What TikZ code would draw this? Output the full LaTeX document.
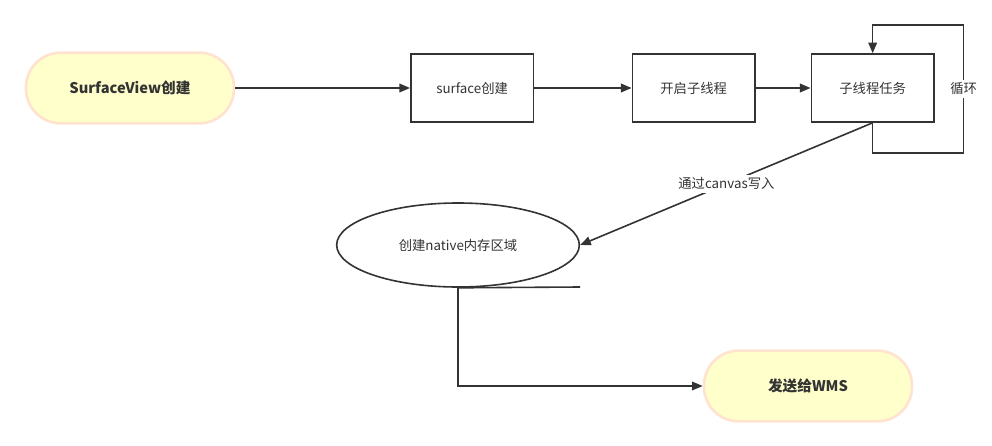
\documentclass[tikz,border=0pt]{standalone}
\usepackage{fontspec}
\setmainfont{Noto Sans CJK SC}
\usetikzlibrary{positioning,arrows.meta,shapes.geometric}

\definecolor{lnc}{HTML}{333333}
\definecolor{pale}{HTML}{FFFFCC}
\definecolor{peach}{HTML}{FFE3CF}

\begin{document}
\begin{tikzpicture}[
  x=0.75pt, y=-0.75pt,
  >={Triangle[length=8pt,width=6.5pt]},
  every path/.style={draw=lnc, line width=1.2pt},
  every node/.style={text=lnc},
  term/.style={rectangle, rounded corners=26pt, draw=peach, line width=2pt, fill=pale, minimum width=156pt, minimum height=53pt, font=\bfseries\fontsize{11}{13}\selectfont},
  task/.style={rectangle, draw=lnc, line width=1.2pt, minimum width=92pt, minimum height=51pt, font=\fontsize{10}{12}\selectfont},
  store/.style={ellipse, draw=lnc, line width=1.2pt, minimum width=182pt, minimum height=63pt, font=\fontsize{10}{12}\selectfont},
  lbl/.style={fill=white, inner sep=2pt, font=\fontsize{10}{12}\selectfont}
]
\useasboundingbox[draw=none] (0,0) rectangle (992,446);

\node[term] (sv) at (130,88) {SurfaceView创建};
\node[task, right=131pt of sv] (sc) {surface创建};
\node[task, right=73pt of sc] (th) {开启子线程};
\node[task, right=41pt of th] (job) {子线程任务};
\node[store] (mem) at (458,245) {创建native内存区域};
\node[term] (wms) at (808,386) {发送给WMS};
\coordinate (stub) at (580,287);

% top row
\draw[->] (sv) -- (sc);
\draw[->] (sc) -- (th);
\draw[->] (th) -- (job);

% loop on the worker
\draw[->] (job.south) -- ++(0,30) -- ++(91,0) -- node[lbl, midway] {循环} ++(0,-128) -- ++(-91,0) -- (job.north);

% down to memory and out
\draw[->] (job.south) -- node[lbl, midway] {通过canvas写入} (mem.east);
\draw[->] (stub) -- (mem.south) |- (wms.west);

\end{tikzpicture}
\end{document}
